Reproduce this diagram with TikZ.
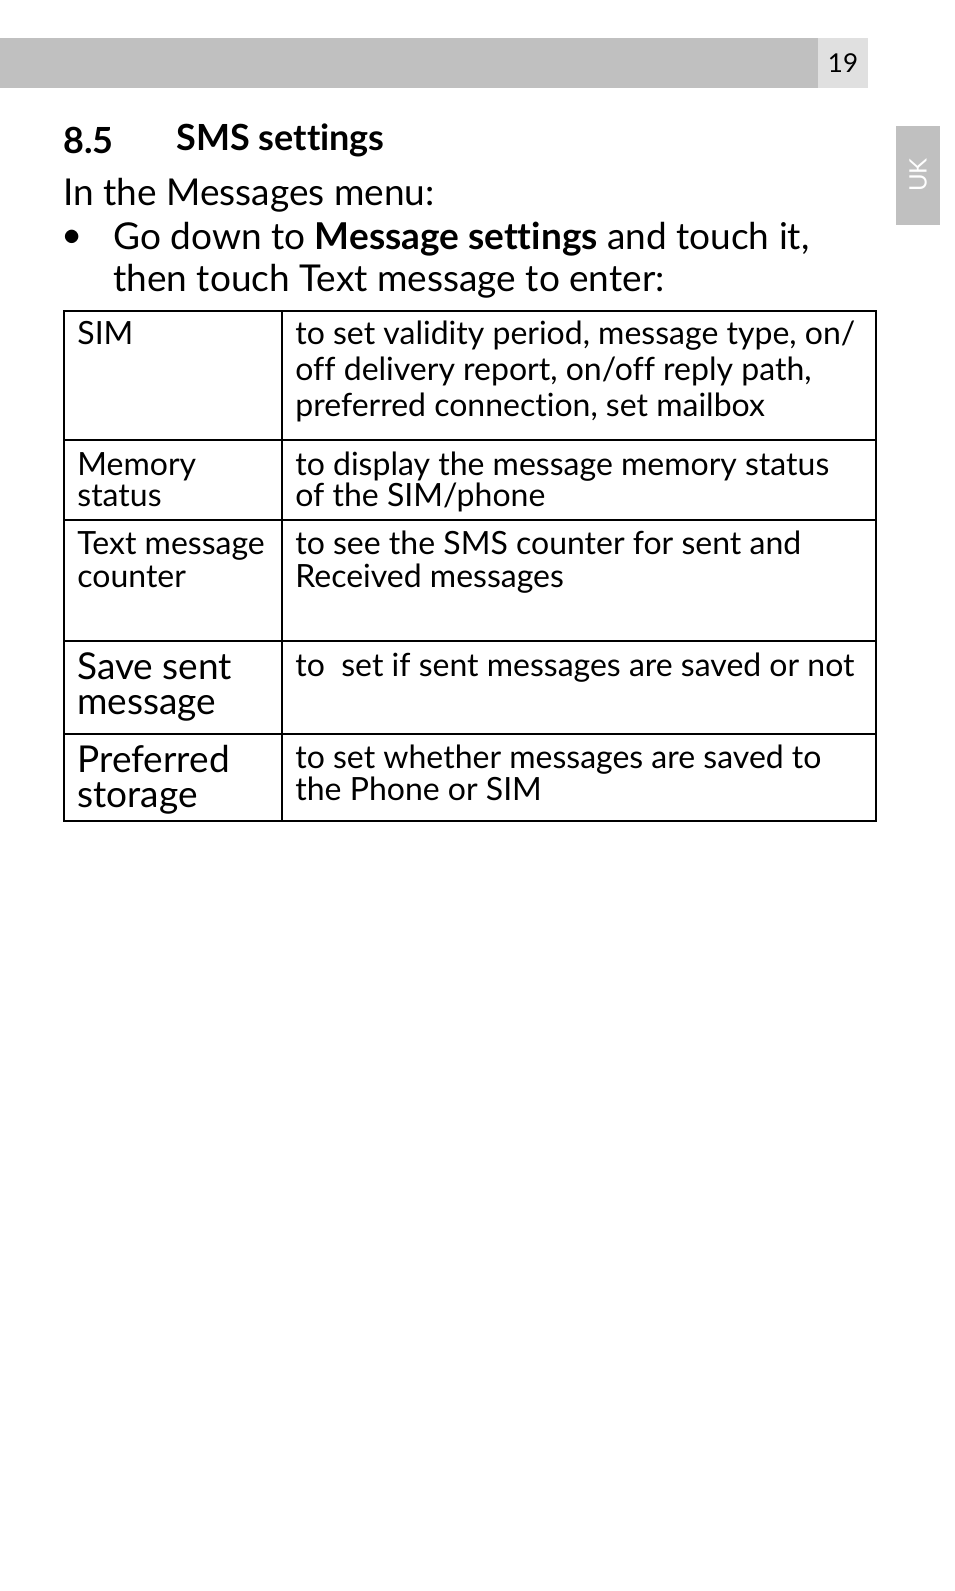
\documentclass[tikz,border=0pt]{standalone}
\usepackage{fontspec}
\setmainfont[Ligatures=NoCommon]{Lato}
\definecolor{bargray}{HTML}{C0C0C0}
\definecolor{boxgray}{HTML}{E0E0E0}
\tikzset{
  cell/.style={anchor=north west, inner sep=0pt, align=left},
  txt/.style={anchor=west, inner sep=0pt}
}
\begin{document}
\begin{tikzpicture}[x=0.5pt, y=-0.5pt]
\useasboundingbox (0,0) rectangle (954,1591);
%header bar and tab
\fill[bargray] (0,38) rectangle (818,88);
\fill[boxgray] (818,38) rectangle (868,88);
\node[font=\fontsize{13}{15}\selectfont] (page) at (843,63) {19};
\fill[bargray] (896,126) rectangle (940,225);
\node[rotate=90, text=white, font=\fontsize{12}{14}\selectfont] (uk) at (918,175) {UK};
%heading and intro
\node[txt, font=\fontsize{18}{20}\selectfont\bfseries] (num) at (63,140) {8.5};
\node[txt, font=\fontsize{18}{20}\selectfont\bfseries] (head) at (176,140) {SMS settings};
\node[txt, font=\fontsize{18.5}{20}\selectfont] (intro) at (63,195) {In the Messages menu:};
\node[txt, font=\fontsize{18.5}{20}\selectfont] (dot) at (63,238) {$\bullet$};
\node[cell, font=\fontsize{18.5}{21}\selectfont] (step) at (113,222) {Go down to \textbf{Message settings} and touch it,\\then touch Text message to enter:};
%table
\draw[line width=1pt] (64,311) rectangle (876,821);
\draw[line width=1pt] (282,311) -- (282,821);
\foreach \y in {440,520,641,734}{
  \draw[line width=1pt] (64,\y) -- (876,\y);
}
\node[cell, font=\fontsize{16}{18}\selectfont] (k1) at (77,321) {SIM};
\node[cell, font=\fontsize{16}{18}\selectfont] (v1) at (295,321) {to set validity period, message type, on/\\off delivery report, on/off reply path,\\preferred connection, set mailbox};
\node[cell, font=\fontsize{16}{15.5}\selectfont] (k2) at (77,452) {Memory\\status};
\node[cell, font=\fontsize{16}{15.5}\selectfont] (v2) at (295,452) {to display the message memory status\\of the SIM/phone};
\node[cell, font=\fontsize{16}{16.5}\selectfont] (k3) at (77,531) {Text message\\counter};
\node[cell, font=\fontsize{16}{16.5}\selectfont] (v3) at (295,531) {to see the SMS counter for sent and\\Received messages};
\node[cell, font=\fontsize{18.5}{17.5}\selectfont] (k4) at (77,652) {Save sent\\message};
\node[cell, font=\fontsize{16}{16}\selectfont] (v4) at (295,653) {to\ \ set if sent messages are saved or not};
\node[cell, font=\fontsize{18.5}{17.5}\selectfont] (k5) at (77,745) {Preferred\\storage};
\node[cell, font=\fontsize{16}{16}\selectfont] (v5) at (295,745) {to set whether messages are saved to\\the Phone or SIM};
\end{tikzpicture}
\end{document}
